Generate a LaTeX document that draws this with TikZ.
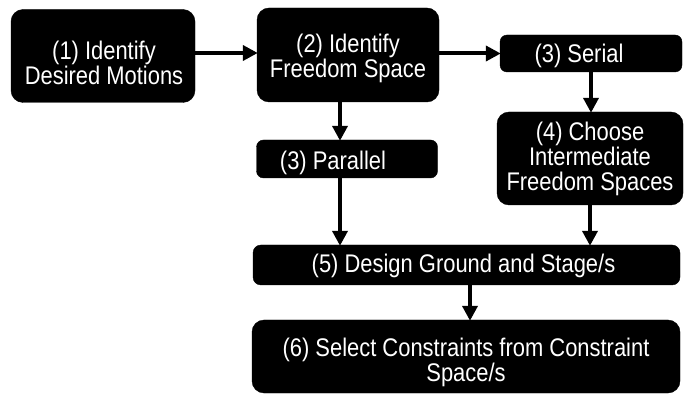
\documentclass[tikz,border=0pt]{standalone}
\usepackage{fontspec}
\setmainfont{Liberation Sans}[FakeStretch=0.86]
\usetikzlibrary{arrows.meta}
\begin{document}
\begin{tikzpicture}[x=1pt,y=-1pt,
  stepbox/.style={fill=black,draw=black,rounded corners=#1,inner sep=0pt,anchor=center},
  stepbox/.default=12pt,
  steptext/.style={text=white,align=center,inner sep=0pt,anchor=center,
    font=\fontsize{25.5}{25}\selectfont},
  arr/.style={line width=4pt,-{Triangle[length=15pt,width=15pt]},shorten >=-1pt}]
\useasboundingbox (0,0) rectangle (688,395);
% process step boxes
\node[stepbox,minimum width=184pt,minimum height=93pt] (b1) at (103,56) {};
\node[stepbox,minimum width=182pt,minimum height=94pt] (b2) at (348,55) {};
\node[stepbox=7pt,minimum width=182pt,minimum height=37pt] (b3) at (591,53.5) {};
\node[stepbox,minimum width=186pt,minimum height=93pt] (b4) at (590,158.5) {};
\node[stepbox=7pt,minimum width=181pt,minimum height=38pt] (par) at (347,159) {};
\node[stepbox=8pt,minimum width=427pt,minimum height=40pt] (b5) at (466.5,265) {};
\node[stepbox,minimum width=428pt,minimum height=73pt] (b6) at (466,356.5) {};
% step labels (shifts are in page points, so negative moves down)
\node[steptext] (t1) at ([xshift=1pt,yshift=-6.5pt]b1.center) {(1) Identify\\Desired Motions};
\node[steptext] (t2) at ([yshift=-3pt]b2.center) {(2) Identify\\Freedom Space};
\node[steptext] (t3) at ([xshift=-12pt,yshift=-2.5pt]b3.center) {(3) Serial};
\node[steptext] (t4) at (b4.center) {(4) Choose\\Intermediate\\Freedom Spaces};
\node[steptext] (tp) at ([xshift=-14pt,yshift=-4pt]par.center) {(3) Parallel};
\node[steptext] (t5) at ([xshift=-3pt,yshift=-1pt]b5.center) {(5) Design Ground and Stage/s};
\node[steptext] (t6) at ([yshift=-6pt]b6.center) {(6) Select Constraints from Constraint\\Space/s};
% connectors
\draw[arr] ([yshift=3pt]b1.east) -- ([yshift=3pt]b1.east -| b2.west);
\draw[arr] (b2.east |- b3.west) -- (b3.west);
\draw[arr] (b3.south) -- (b3.south |- b4.north);
\draw[arr] ([xshift=-8pt]b2.south) -- ([xshift=-8pt]b2.south |- par.north);
\draw[arr] ([xshift=-7pt]par.south) -- ([xshift=-7pt]par.south |- b5.north);
\draw[arr] (b4.south) -- (b4.south |- b5.north);
\draw[arr] ([xshift=3.5pt]b5.south) -- ([xshift=3.5pt]b5.south |- b6.north);
\end{tikzpicture}
\end{document}
